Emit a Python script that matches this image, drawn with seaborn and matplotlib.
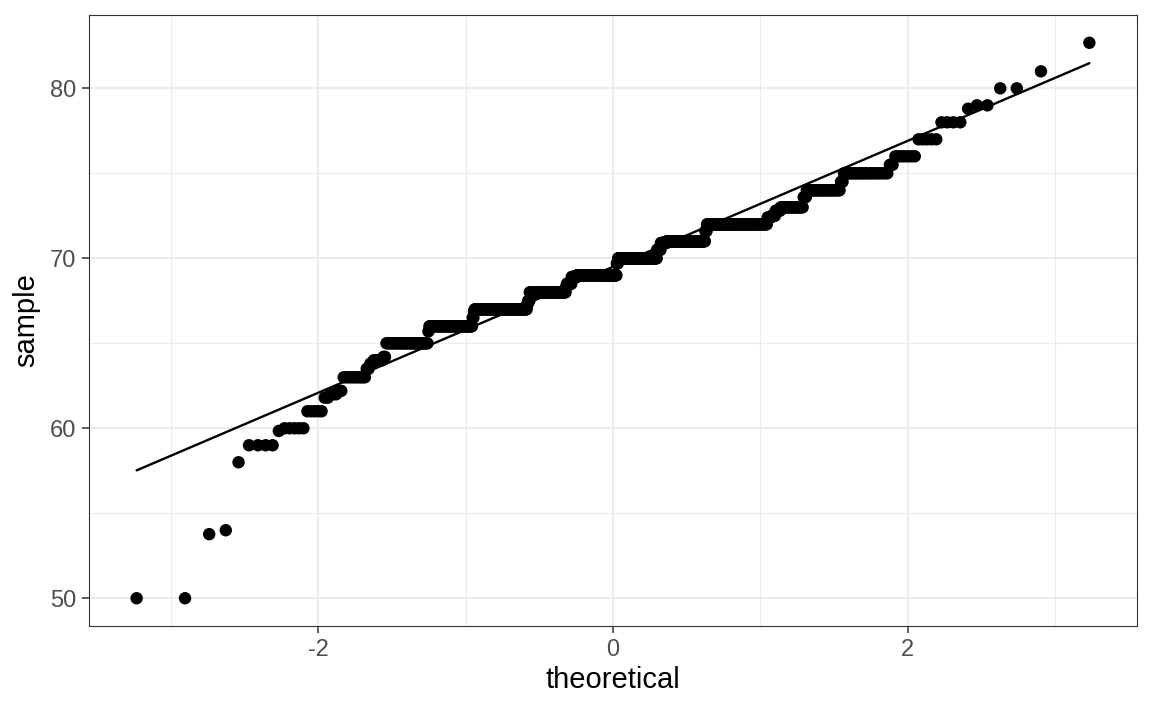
import numpy as np
import pandas as pd
import matplotlib
matplotlib.use("Agg")
import matplotlib.pyplot as plt
import seaborn as sns
from statistics import NormalDist

# distinct sample values (heights) and how many times each occurs
height_values = [50, 53.77, 54, 58, 59, 59.84, 60, 61, 61.8, 62, 62.2, 63,
                 63.5, 63.8, 64, 64.2, 65, 65.7, 66, 66.5, 66.9, 67, 67.3, 67.5,
                 68, 68.3, 68.5, 68.9, 69, 69.7, 70, 70.5, 70.9, 71, 71.6, 72,
                 72.4, 72.5, 72.8, 73, 73.6, 74, 74.5, 75, 75.5, 76, 77, 78,
                 78.8, 79, 80, 81, 82.68]
height_counts = [2, 1, 1, 1, 4, 1, 5, 5, 2, 3, 2, 11,
                 2, 2, 6, 2, 35, 1, 52, 2, 1, 86, 2, 3,
                 72, 2, 10, 11, 87, 3, 84, 8, 12, 75, 3, 93,
                 5, 5, 6, 24, 3, 27, 2, 23, 2, 7, 5, 4,
                 1, 2, 2, 1, 1]

x_ticks = [-2, 0, 2]
y_ticks = [50, 60, 70, 80]
x_label = "theoretical"
y_label = "sample"

# --- stat_qq computation ---
sample = np.sort(np.repeat(height_values, height_counts)).astype(float)
n = len(sample)
a = 0.5 if n > 10 else 3 / 8
probs = (np.arange(1, n + 1) - a) / (n + 1 - 2 * a)
nd = NormalDist()
theo = np.array([nd.inv_cdf(p) for p in probs])
df = pd.DataFrame({"theoretical": theo, "sample": sample})

# stat_qq_line: through the quartiles
q_s = np.quantile(sample, [0.25, 0.75])
q_t = np.array([nd.inv_cdf(0.25), nd.inv_cdf(0.75)])
slope = (q_s[1] - q_s[0]) / (q_t[1] - q_t[0])
intercept = q_s[0] - slope * q_t[0]
line_df = pd.DataFrame({"theoretical": [theo.min(), theo.max()]})
line_df["sample"] = intercept + slope * line_df["theoretical"]

# --- drawing ---
sns.set_theme(style="white")
plt.rcParams["font.family"] = ["Liberation Sans", "DejaVu Sans"]
plt.rcParams["axes.unicode_minus"] = False

fig = plt.figure(figsize=(11.52, 7.11), dpi=100)
ax = fig.add_axes([89 / 1152, 1 - 626 / 711, (1137 - 89) / 1152, (626 - 15) / 711])

sns.scatterplot(data=df, x="theoretical", y="sample", ax=ax, color="black",
                s=80, linewidth=0, edgecolor="none", zorder=3)
sns.lineplot(data=line_df, x="theoretical", y="sample", ax=ax, color="black",
             linewidth=1.7, zorder=4)

# limits with ggplot-style 5% expansion
xr = theo.max() - theo.min()
yr = sample.max() - sample.min()
ax.set_xlim(theo.min() - 0.05 * xr, theo.max() + 0.05 * xr)
ax.set_ylim(sample.min() - 0.05 * yr, sample.max() + 0.05 * yr)

ax.set_xticks(x_ticks)
ax.set_yticks(y_ticks)
ax.set_xticklabels([str(t) for t in x_ticks])
ax.set_yticklabels([str(t) for t in y_ticks])
ax.set_xticks([-3, -1, 1, 3], minor=True)
ax.set_yticks([55, 65, 75], minor=True)

ax.grid(True, which="major", color="#EBEBEB", linewidth=1.5, zorder=0)
ax.grid(True, which="minor", color="#EBEBEB", linewidth=0.75, zorder=0)
ax.set_axisbelow(True)

for sp in ax.spines.values():
    sp.set_visible(True)
    sp.set_color("#333333")
    sp.set_linewidth(0.8)

ax.tick_params(axis="both", which="major", length=5.2, width=1.1, color="#333333",
               labelsize=17, labelcolor="#4D4D4D", pad=4,
               bottom=True, left=True)
ax.tick_params(axis="both", which="minor", length=0)

ax.set_xlabel(x_label, fontsize=21, color="black", labelpad=4)
ax.set_ylabel(y_label, fontsize=21, color="black", labelpad=7)

fig.savefig("out.png", dpi=100)
